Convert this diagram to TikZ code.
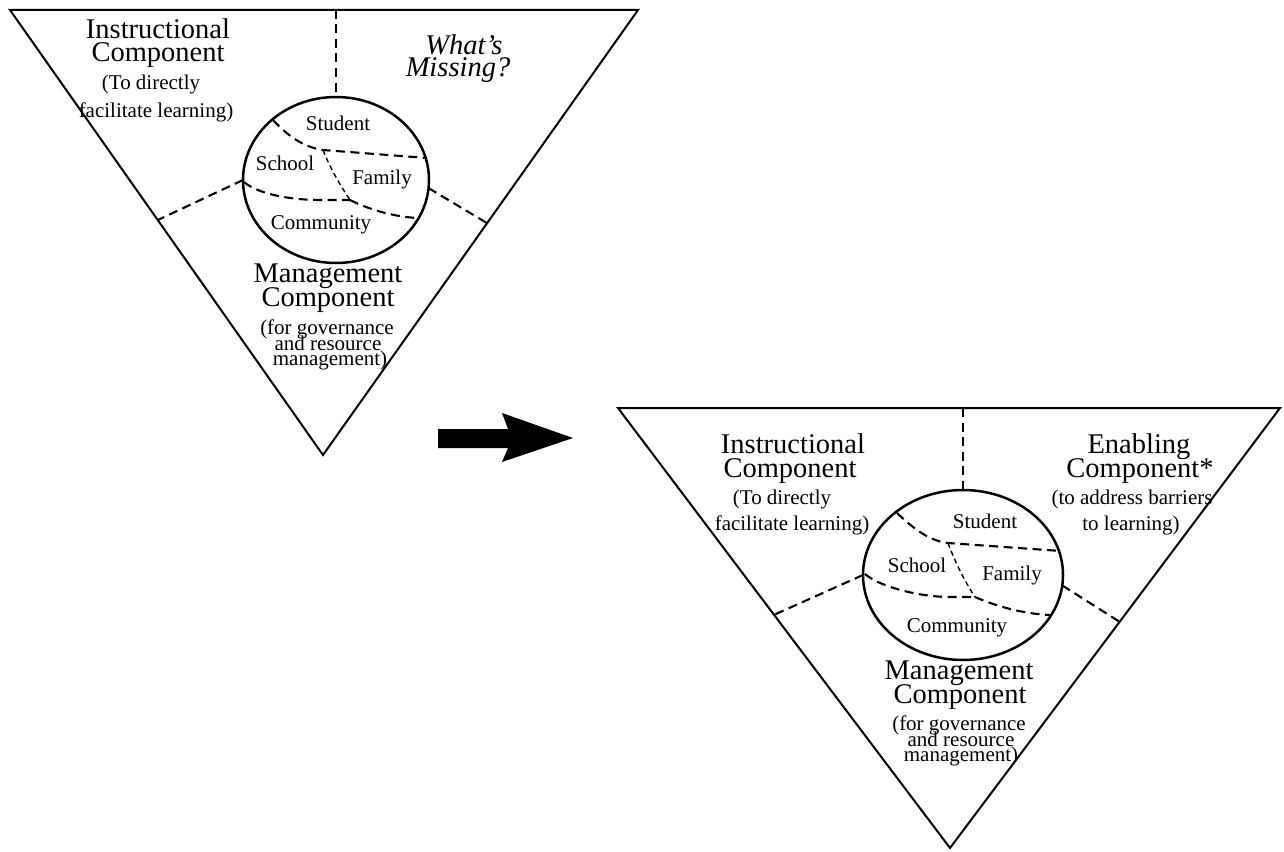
\documentclass[tikz,border=0pt]{standalone}
\usepackage{fontspec}
\setmainfont{Liberation Serif}
\usetikzlibrary{shapes.geometric,calc}
\begin{document}
\begin{tikzpicture}[x=1pt,y=-1pt,
  tri/.style={draw, line width=2pt, line join=miter},
  ring/.style={draw, ellipse, line width=2.5pt, inner sep=0pt, outer sep=0pt},
  dsh/.style={line width=2.1pt, dash pattern=on 9pt off 5.5pt},
  thindsh/.style={line width=1.4pt, dash pattern=on 5pt off 3.5pt},
  hdtext/.style={font=\fontsize{28.5}{24}\selectfont, inner sep=0pt, anchor=base},
  ittext/.style={font=\fontsize{28.5}{24}\selectfont\itshape, inner sep=0pt, anchor=base},
  subtext/.style={font=\fontsize{21}{15}\selectfont, inner sep=0pt, anchor=base},
  circlab/.style={font=\fontsize{21}{21}\selectfont, inner sep=0pt, anchor=base},
  bigarrow/.style={fill=black}
]
\useasboundingbox (0,0) rectangle (1284,851);

% ---------------- Triangle 1 ----------------
\coordinate (L1) at (10,10);
\coordinate (R1) at (638,10);
\coordinate (A1) at (323,455);
\draw[tri] (L1) -- (R1) -- (A1) -- cycle;
\node[ring, minimum width=186, minimum height=166] (c1) at (336,180) {};
\coordinate (t1) at (336,10);
\coordinate (e1l) at ($(L1)!0.472!(A1)$);
\coordinate (e1r) at ($(R1)!0.479!(A1)$);
\draw[dsh] (t1) -- (c1.north);
\draw[dsh] (c1.west) -- (e1l);
\draw[dsh] (c1.-5) -- (e1r);
% inner boundaries
\coordinate (j1a) at (323,150);
\coordinate (j1b) at (350,200);
\draw[dsh] (273,120) .. controls (288,136) and (303,147) .. (j1a) -- (427,158);
\draw[thindsh] (j1a) .. controls (330,168) and (340,185) .. (j1b);
\draw[dsh] (j1b) .. controls (370,210) and (395,217) .. (418,218);
\draw[dsh] (244,182) .. controls (258,194) and (290,200) .. (320,200) -- (j1b);
% circle labels
\node[circlab] (st1) at (338,130) {Student};
\node[circlab] (sc1) at (285,170) {School};
\node[circlab] (fa1) at (382,184) {Family};
\node[circlab] (co1) at (321,229) {Community};
% texts
\node[hdtext] (in1a) at (158,38) {Instructional};
\node[hdtext] (in1b) at (158,62) {Component};
\node[subtext] (in1c) at (151,89) {(To directly};
\node[subtext] (in1d) at (156,117) {facilitate learning)};
\node[ittext] (wm1a) at (464,55) {What’s};
\node[ittext] (wm1b) at (458,76) {Missing?};
\node[hdtext] (mg1a) at (328,282) {Management};
\node[hdtext] (mg1b) at (328,306) {Component};
\node[subtext] (mg1c) at (327,334) {(for governance};
\node[subtext] (mg1d) at (328,350) {and resource};
\node[subtext] (mg1e) at (330,365) {management)};

% ---------------- Arrow ----------------
\fill[bigarrow] (438,429) -- (508,429) -- (502,413) -- (573,438) -- (502,462) -- (508,448) -- (438,448) -- cycle;

% ---------------- Triangle 2 ----------------
\coordinate (L2) at (618,408);
\coordinate (R2) at (1280,408);
\coordinate (A2) at (950,848);
\draw[tri] (L2) -- (R2) -- (A2) -- cycle;
\node[ring, minimum width=200, minimum height=170] (c2) at (963,575) {};
\coordinate (t2) at (963,408);
\coordinate (e2l) at ($(L2)!0.47!(A2)$);
\coordinate (e2r) at ($(R2)!0.486!(A2)$);
\draw[dsh] (t2) -- (c2.north);
\draw[dsh] (c2.west) -- (e2l);
\draw[dsh] (c2.-6) -- (e2r);
% inner boundaries
\coordinate (j2a) at (948,543);
\coordinate (j2b) at (975,597);
\draw[dsh] (897,513) .. controls (915,530) and (930,541) .. (j2a) -- (1061,551);
\draw[thindsh] (j2a) .. controls (955,562) and (965,582) .. (j2b);
\draw[dsh] (j2b) .. controls (998,607) and (1025,614) .. (1050,615);
\draw[dsh] (865,574) .. controls (880,587) and (920,597) .. (950,597) -- (j2b);
% circle labels
\node[circlab] (st2) at (985,528) {Student};
\node[circlab] (sc2) at (917,572) {School};
\node[circlab] (fa2) at (1012,580) {Family};
\node[circlab] (co2) at (957,632) {Community};
% texts
\node[hdtext] (in2a) at (793,453) {Instructional};
\node[hdtext] (in2b) at (790,477) {Component};
\node[subtext] (in2c) at (782,504) {(To directly};
\node[subtext] (in2d) at (792,530) {facilitate learning)};
\node[hdtext] (en2a) at (1139,453) {Enabling};
\node[hdtext] (en2b) at (1140,477) {Component*};
\node[subtext] (en2c) at (1132,504) {(to address barriers};
\node[subtext] (en2d) at (1131,530) {to learning)};
\node[hdtext] (mg2a) at (959,679) {Management};
\node[hdtext] (mg2b) at (960,703) {Component};
\node[subtext] (mg2c) at (959,730) {(for governance};
\node[subtext] (mg2d) at (961,746) {and resource};
\node[subtext] (mg2e) at (961,761) {management)};
\end{tikzpicture}
\end{document}
